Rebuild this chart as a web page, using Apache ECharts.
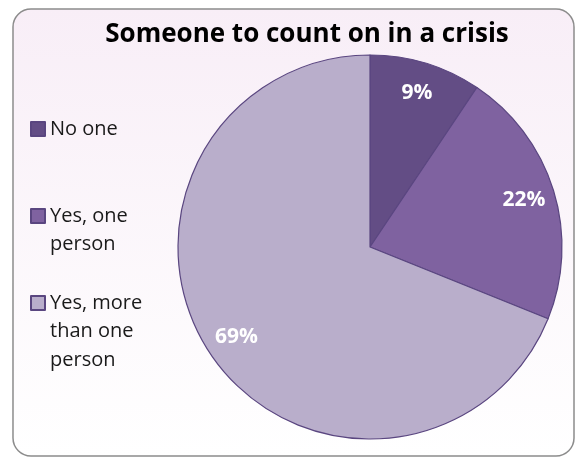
<!DOCTYPE html>
<html><head><meta charset="utf-8">
<script src="https://cdn.jsdelivr.net/npm/echarts@6/dist/echarts.min.js"></script>
<style>html,body{margin:0;padding:0;background:#fff}#c{width:576px;height:458px}</style>
</head><body><div id="c"></div>
<script>
const categories = ["No one", "Yes, one person", "Yes, more than one person"];
const values = [9.4, 21.7, 68.9];
const legendLabels = ["No one", "Yes, one\nperson", "Yes, more\nthan one\nperson"];
const colors = ["#634d85", "#7f62a0", "#b9aecb"];
const titleText = "Someone to count on in a crisis";

const chart = echarts.init(document.getElementById('c'), null, {renderer: 'canvas'});
const data = categories.map((n, i) => ({name: n, value: values[i], itemStyle: {color: colors[i]}}));
const LH = 28.5;
const iconCenters = [129, 216, 303];
const legends = categories.map((n, i) => {
  const lines = legendLabels[i].split('\n').length;
  const total = 2 * lines - 1;
  return {
    data: [n],
    orient: 'vertical',
    left: 30,
    top: iconCenters[i] - total * LH / 2,
    padding: 0,
    icon: 'rect',
    itemWidth: 14, itemHeight: 14,
    itemGap: 0,
    selectedMode: false,
    formatter: () => '\n'.repeat(lines - 1) + legendLabels[i],
    textStyle: {fontFamily: 'Open Sans', fontSize: 20, color: '#1a1a1a', lineHeight: LH}
  };
});
chart.setOption({
  backgroundColor: '#fff',
  animation: false,
  graphic: [{
    type: 'rect', z: -10, silent: true,
    shape: {x: 13, y: 9, width: 561, height: 447, r: 18},
    style: {fill: new echarts.graphic.LinearGradient(0, 0, 0, 1, [
      {offset: 0, color: '#f8eef7'}, {offset: 1, color: '#ffffff'}]),
      stroke: '#8c8c8c', lineWidth: 1.5}
  }],
  title: {text: titleText, left: 302, top: 17, textAlign: 'center',
    textStyle: {fontFamily: 'Open Sans', fontWeight: 'bold', fontSize: 26, color: '#000'}},
  legend: legends,
  series: [{
    type: 'pie', center: [370, 247], radius: [0, 192], startAngle: 90, clockwise: true,
    data: data, label: {show: false}, labelLine: {show: false},
    itemStyle: {borderColor: '#5a4680', borderWidth: 1.2}
  }, {
    type: 'pie', center: [370, 247], radius: [124, 192], startAngle: 90, clockwise: true,
    silent: true,
    data: categories.map((n, i) => ({name: n, value: values[i]})),
    itemStyle: {color: 'rgba(0,0,0,0)', borderWidth: 0},
    label: {show: true, position: 'inside', formatter: p => Math.round(p.value) + '%',
      fontFamily: 'Open Sans', fontWeight: 'bold', fontSize: 21, color: '#fff'},
    labelLine: {show: false}
  }]
});
</script></body></html>
